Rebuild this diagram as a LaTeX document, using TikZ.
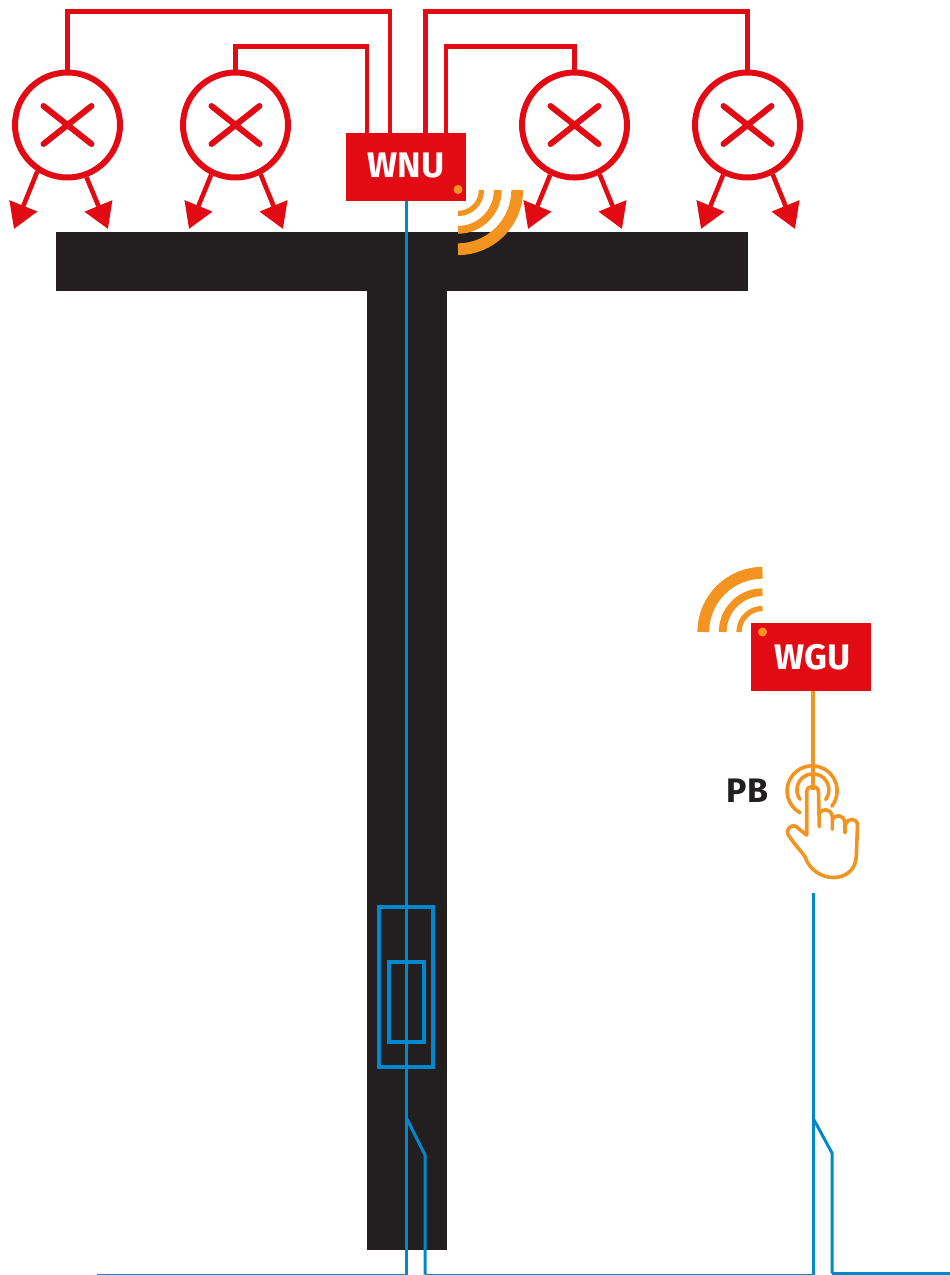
\documentclass[tikz,border=0pt]{standalone}
\usepackage{fontspec}
\setmainfont{Fira Sans}
\usetikzlibrary{arrows.meta}
\definecolor{lampred}{HTML}{E30B13}
\definecolor{radioorange}{HTML}{F39420}
\definecolor{cableblue}{HTML}{0088CE}
\definecolor{poleblack}{HTML}{231F20}
\tikzset{
  lamp/.style={circle,draw=lampred,line width=6pt,minimum size=105pt,inner sep=0pt,
    path picture={\draw[lampred,line width=6pt,line cap=round](path picture bounding box.center)+(-24,-19)--+(24,19)+(-24,19)--+(24,-19);}},
  lampwire/.style={lampred,line width=4.6pt},
  lampray/.style={lampred,line width=4.6pt,-{Triangle[length=25pt,width=29pt]}},
  unitbox/.style={fill=lampred,text=white,minimum width=120pt,minimum height=68pt,inner sep=0pt,font=\bfseries\fontsize{35.5}{35.5}\selectfont},
  cable/.style={cableblue,line width=3pt},
  handline/.style={radioorange,line width=3.6pt,line cap=round,line join=round},
  leddot/.style={circle,fill=radioorange,minimum size=9pt,inner sep=0pt}
}
\begin{document}
\begin{tikzpicture}[x=1pt,y=-1pt]
\useasboundingbox(0,0)rectangle(950,1275);
% pole
\fill[poleblack](56,232)rectangle(748,291);\fill[poleblack](367,291)rectangle(447,1250);
% lamps
\node[lamp](lampa)at(67.5,125){};\node[lamp](lampb)at(235.5,125){};
\node[lamp](lampc)at(574.5,125){};\node[lamp](lampd)at(747.5,125){};
\coordinate(tipaL)at(14,229);\coordinate(tipaR)at(108,229);
\coordinate(tipbL)at(189,229);\coordinate(tipbR)at(283,229);
\coordinate(tipcL)at(528,229);\coordinate(tipcR)at(622,229);
\coordinate(tipdL)at(701,229);\coordinate(tipdR)at(795,229);
\draw[lampray](lampa.-123)--(tipaL);\draw[lampray](lampa.-70)--(tipaR);
\draw[lampray](lampb.-116)--(tipbL);\draw[lampray](lampb.-63)--(tipbR);
\draw[lampray](lampc.-116)--(tipcL);\draw[lampray](lampc.-63)--(tipcR);
\draw[lampray](lampd.-116)--(tipdL);\draw[lampray](lampd.-63)--(tipdR);
% wires to the unit
\coordinate(wnuA)at(390,133);\coordinate(wnuB)at(367,133);\coordinate(wnuC)at(446,133);\coordinate(wnuD)at(425.5,133);
\draw[lampwire](lampa.north)--++(0,-58)-|(wnuA);
\draw[lampwire](lampb.north)--++(0,-23)-|(wnuB);
\draw[lampwire](lampc.north)--++(0,-23)-|(wnuC);
\draw[lampwire](lampd.north)--++(0,-58)-|(wnuD);
% blue cabling
\node[unitbox](wnu)at(406,167){\raisebox{4pt}{WNU}};
\coordinate(wnuOut)at(406.5,201);\coordinate(wnuDown)at(406.5,1274.5);\coordinate(feedEnd)at(97,1274.5);
\draw[cable](wnuOut)--(wnuDown);\draw[cable,line width=2pt](wnuDown)--(feedEnd);
\draw[cable,line width=3.4pt](379,907)rectangle(433,1067);\draw[cable,line width=3.4pt](389,962)rectangle(424,1042);
\coordinate(swA)at(406.5,1118);\coordinate(swAknee)at(425,1155);\coordinate(swAfoot)at(425,1274.5);
\coordinate(pbDown)at(813,1274.5);\coordinate(pbTop)at(813,893);
\draw[cable](swA)--(swAknee)--(swAfoot);\draw[cable,line width=2pt](swAfoot)--(pbDown);\draw[cable](pbDown)--(pbTop);
\coordinate(swB)at(813,1118);\coordinate(swBknee)at(832,1153);\coordinate(swBfoot)at(832,1273.5);\coordinate(loadEnd)at(950,1273.5);
\draw[cable](swB)--(swBknee)--(swBfoot);\draw[cable,line width=3.6pt](swBfoot)--(loadEnd);
% radio waves
\node[leddot](wnudot)at(458,189.5){};
\draw[radioorange,line width=5.3pt](458,213.5)arc(90:0:23.5);
\draw[radioorange,line width=7.8pt](458,229.8)arc(90:0:39.8);
\draw[radioorange,line width=11.8pt](458,249.2)arc(90:0:59.2);
\node[unitbox](wgu)at(811,657){\hspace{3pt}WGU};
\node[leddot](wgudot)at(762.5,632){};
\draw[radioorange,line width=5.3pt](762.5,608.5)arc(-90:-180:23.5);
\draw[radioorange,line width=7.8pt](762.5,592.2)arc(-90:-180:39.8);
\draw[radioorange,line width=11.8pt](762.5,572.8)arc(-90:-180:59.2);
% push button
\node[text=poleblack,font=\bfseries\fontsize{34}{34}\selectfont,inner sep=0pt](pblabel)at(747.5,790.5){PB};
\coordinate(fingerTip)at(813,790);
\draw[radioorange,line width=3.2pt](wgu.south-|fingerTip)--(fingerTip);
\draw[handline](800,812.7)arc(119:398:25);
\draw[handline](800,799.3)arc(144:397:16);
\draw[handline](806.7,835)--(806.7,792).. controls (806.7,784.5) and (818.5,784.5) .. (818.5,792)--(819.3,826.7);
\draw[handline](819.3,813.3).. controls (821,809) and (831,807) .. (832.3,816.7)--(832.3,829.3);
\draw[handline](832.7,819).. controls (834,815) and (844,813) .. (845,823.3)--(845,832.7);
\draw[handline](845.7,824).. controls (847,818) and (858,817) .. (857.5,826)--(856.3,856).. controls (855.5,884) and (815,885) .. (805,857)
  .. controls (803,853) and (795,845) .. (789,836).. controls (784,830) and (793,821) .. (799,829)--(806.7,835);
\end{tikzpicture}
\end{document}
